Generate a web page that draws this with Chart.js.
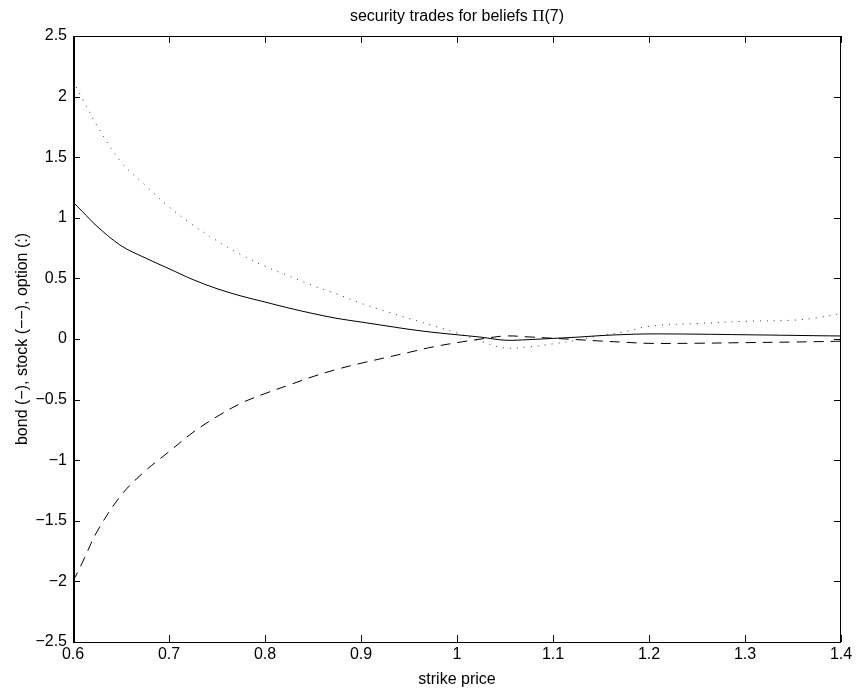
<!DOCTYPE html>
<html>
<head>
<meta charset="utf-8">
<script src="https://cdn.jsdelivr.net/npm/chart.js@4"></script>
<style>
    html, body { margin: 0; padding: 0; background: #fff; }
    #wrap { width: 857px; height: 694px; }
</style>
</head>
<body>
<div id="wrap"><canvas id="chart"></canvas></div>
<script>
const strikes = [0.6, 0.61, 0.625, 0.65, 0.675, 0.7, 0.725, 0.75, 0.775, 0.8, 0.825, 0.85, 0.875, 0.9, 0.925, 0.95, 0.975, 1.0, 1.025, 1.05, 1.075, 1.1, 1.125, 1.15, 1.175, 1.2, 1.25, 1.3, 1.35, 1.375, 1.4];
const bond = [1.13, 1.05, 0.93, 0.77, 0.67, 0.58, 0.49, 0.415, 0.355, 0.305, 0.255, 0.21, 0.17, 0.14, 0.11, 0.08, 0.055, 0.035, 0.015, -0.01, -0.005, 0.005, 0.015, 0.028, 0.037, 0.042, 0.04, 0.035, 0.03, 0.027, 0.025];
const stock = [-2.0, -1.84, -1.59, -1.29, -1.09, -0.93, -0.77, -0.64, -0.53, -0.45, -0.38, -0.31, -0.25, -0.2, -0.155, -0.11, -0.065, -0.03, 0.0, 0.025, 0.017, 0.006, -0.005, -0.017, -0.027, -0.036, -0.035, -0.03, -0.025, -0.022, -0.018];
const option = [2.13, 1.98, 1.76, 1.46, 1.27, 1.09, 0.94, 0.81, 0.695, 0.6, 0.52, 0.44, 0.37, 0.295, 0.23, 0.17, 0.11, 0.05, -0.02, -0.075, -0.065, -0.04, -0.01, 0.03, 0.06, 0.105, 0.128, 0.146, 0.155, 0.175, 0.21];

const xTicks = [0.6, 0.7, 0.8, 0.9, 1.0, 1.1, 1.2, 1.3, 1.4];
const yTicks = [-2.5, -2, -1.5, -1, -0.5, 0, 0.5, 1, 1.5, 2, 2.5];

const FONT = 'Liberation Sans, Arial, Helvetica, sans-serif';

function fmt(v) {
    return String(+v.toFixed(2)).replace('-', '\u2212');
}

function series(values) {
    return strikes.map((x, i) => ({ x, y: values[i] }));
}

// matlab style box with inward ticks, plus the title
const boxPlugin = {
    id: 'box',
    afterDraw(chart) {
        const { ctx, chartArea: a, scales } = chart;
        ctx.save();
        ctx.strokeStyle = '#000';
        ctx.lineWidth = 1;
        ctx.strokeRect(a.left + 0.5, a.top + 0.5, a.right - a.left - 1, a.bottom - a.top);
        // left axis looks a bit heavier in the original
        ctx.beginPath();
        ctx.moveTo(a.left + 1.5, a.top); ctx.lineTo(a.left + 1.5, a.bottom);
        ctx.stroke();
        ctx.beginPath();
        xTicks.forEach(v => {
            const px = Math.round(scales.x.getPixelForValue(v)) + 0.5;
            ctx.moveTo(px, a.bottom); ctx.lineTo(px, a.bottom - 7);
            ctx.moveTo(px, a.top); ctx.lineTo(px, a.top + 7);
        });
        yTicks.forEach(v => {
            const py = Math.round(scales.y.getPixelForValue(v)) + 0.5;
            ctx.moveTo(a.left, py); ctx.lineTo(a.left + 7, py);
            ctx.moveTo(a.right, py); ctx.lineTo(a.right - 7, py);
        });
        ctx.stroke();

        const parts = [
            ['security trades for beliefs ', '16px ' + FONT],
            ['\u03A0', '17px Liberation Serif, Times New Roman, serif'],
            ['(7)', '16px ' + FONT]
        ];
        let total = 0;
        parts.forEach(p => { ctx.font = p[1]; total += ctx.measureText(p[0]).width; });
        let x = (a.left + a.right) / 2 - total / 2;
        ctx.fillStyle = '#000';
        ctx.textBaseline = 'middle';
        ctx.textAlign = 'left';
        parts.forEach(p => {
            ctx.font = p[1];
            ctx.fillText(p[0], x, 17);
            x += ctx.measureText(p[0]).width;
        });
        ctx.restore();
    }
};

const lineStyle = { borderColor: '#000', borderWidth: 1, pointRadius: 0, tension: 0.35, fill: false };

new Chart(document.getElementById('chart'), {
    type: 'line',
    data: {
        datasets: [
            { label: 'bond', data: series(bond), ...lineStyle },
            { label: 'stock', data: series(stock), ...lineStyle, borderDash: [10, 7] },
            { label: 'option', data: series(option), ...lineStyle, borderDash: [1, 6], borderColor: '#333' }
        ]
    },
    options: {
        responsive: true,
        maintainAspectRatio: false,
        animation: false,
        layout: { padding: { top: 36, right: 16, left: 0, bottom: 0 } },
        plugins: { legend: { display: false }, tooltip: { enabled: false } },
        scales: {
            x: {
                type: 'linear',
                min: 0.6,
                max: 1.4,
                grid: { display: false, drawTicks: false },
                border: { display: false },
                afterBuildTicks: s => { s.ticks = xTicks.map(v => ({ value: v })); },
                afterFit: s => { s.height = 52; },
                ticks: { color: '#000', font: { family: FONT, size: 16 }, padding: 3, maxRotation: 0, callback: v => fmt(v) },
                title: { display: true, text: 'strike price', color: '#000', font: { family: FONT, size: 16 }, padding: { top: 0, bottom: 5 } }
            },
            y: {
                min: -2.5,
                max: 2.5,
                grid: { display: false, drawTicks: false },
                border: { display: false },
                afterBuildTicks: s => { s.ticks = yTicks.map(v => ({ value: v })); },
                afterFit: s => { s.width = 73; },
                ticks: { color: '#000', font: { family: FONT, size: 16 }, padding: 6, callback: v => fmt(v) },
                title: { display: true, text: 'bond (\u2212), stock (\u2212\u2212), option (:)', color: '#000', font: { family: FONT, size: 16 }, padding: { top: 13, bottom: 0 } }
            }
        }
    },
    plugins: [boxPlugin]
});
</script>
</body>
</html>
